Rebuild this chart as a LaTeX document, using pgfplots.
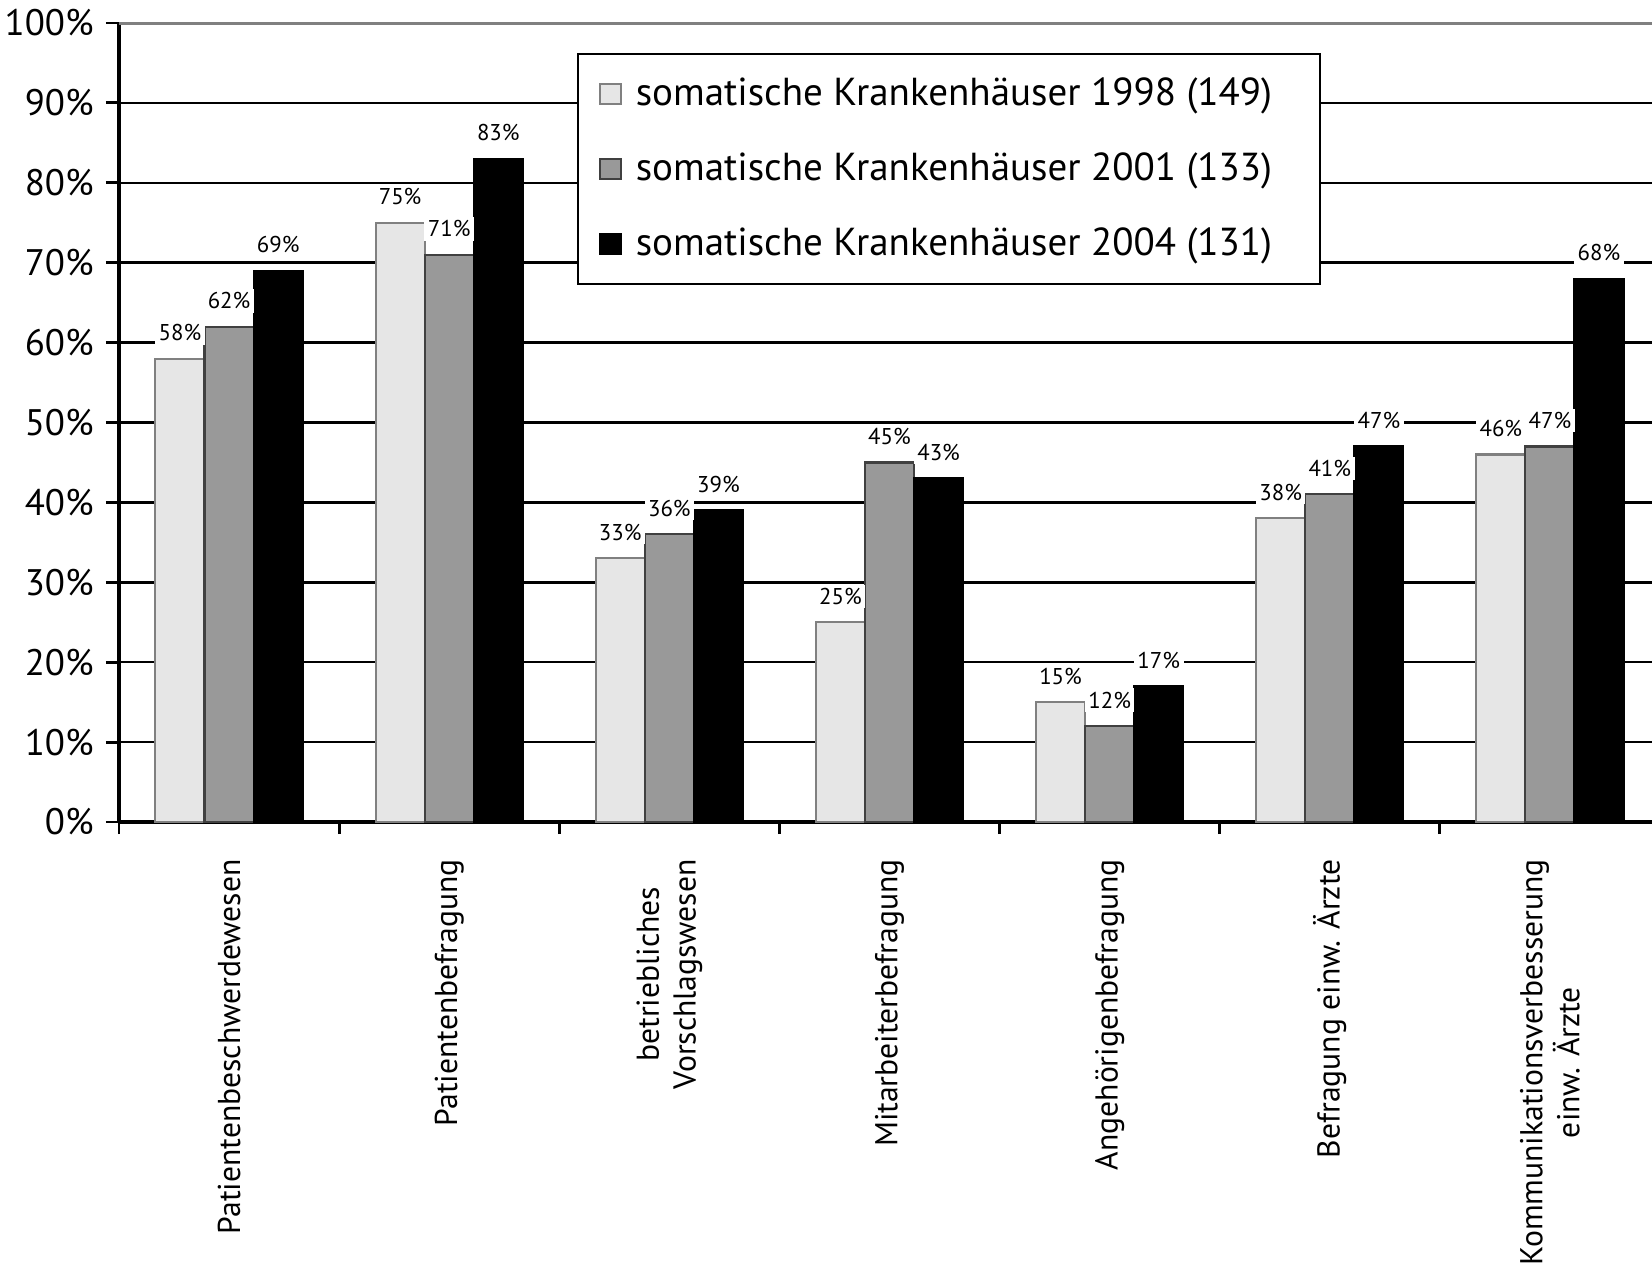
\documentclass[border=0pt]{standalone}
\usepackage{fontspec}
\setmainfont{PT Sans}
\usepackage{pgfplots}
\pgfplotsset{compat=1.18}

\definecolor{lightbar}{RGB}{230,230,230}
\definecolor{midbar}{RGB}{153,153,153}

\begin{document}
\begin{tikzpicture}
\begin{axis}[
    at={(0,0)}, anchor=south west,
    scale only axis,
    width=15.41cm, height=7.99cm,
    ybar=0pt,
    bar width=0.223,
    xmin=-0.5, xmax=6.5,
    ymin=0, ymax=100,
    axis x line=bottom, axis y line=left,
    axis line style={-, line width=1.1pt},
    xtick={0,...,6},
    xticklabels={Patientenbeschwerdewesen, Patientenbefragung,
        {betriebliches\\Vorschlagswesen}, Mitarbeiterbefragung,
        Angehörigenbefragung, Befragung einw. Ärzte,
        {Kommunikationsverbesserung\\einw. Ärzte}},
    xticklabel style={rotate=90, anchor=east, align=center, font=\fontsize{9}{10.5}\selectfont},
    xticklabel shift=0.12cm,
    minor xtick={-0.5,0.5,...,6.5},
    xtick style={draw=none},
    minor tick length=0.12cm,
    minor x tick style={draw=black, line width=0.8pt},
    ytick={0,10,...,100},
    yticklabel={\pgfmathprintnumber{\tick}\%},
    yticklabel style={font=\fontsize{10.5}{12}\selectfont},
    /pgf/number format/assume math mode=true,
    tick align=outside,
    major tick length=0.13cm,
    ytick style={line width=0.8pt, black},
    ymajorgrids,
    grid style={black, line width=0.7pt},
    nodes near coords={\pgfmathprintnumber{\pgfplotspointmeta}\%},
    nodes near coords style={font=\fontsize{6.5}{7}\selectfont, fill=white, inner sep=1pt, yshift=3.7pt},
    legend style={at={(0.297,0.962)}, anchor=north west, draw=black, line width=0.6pt,
        font=\fontsize{11.1}{12.6}\selectfont, row sep=0.28cm, inner xsep=6pt, inner ysep=4.6pt},
    legend cell align=left,
    legend image code/.code={
        \draw[#1, line width=0.5pt] (0cm,-0.1cm) rectangle (0.21cm,0.1cm);
        \path (0.28cm,0cm);},
]
\addplot[fill=lightbar, draw=gray, line width=0.6pt] coordinates {
    (0,58) (1,75) (2,33) (3,25) (4,15) (5,38) (6,46)};
\addlegendentry{somatische Krankenhäuser 1998 (149)\rule{0.2cm}{0pt}}
\addplot[fill=midbar, draw=black!75, line width=0.6pt] coordinates {
    (0,62) (1,71) (2,36) (3,45) (4,12) (5,41) (6,47)};
\addlegendentry{somatische Krankenhäuser 2001 (133)\rule{0.2cm}{0pt}}
\addplot[fill=black, draw=black, line width=0.6pt] coordinates {
    (0,69) (1,83) (2,39) (3,43) (4,17) (5,47) (6,68)};
\addlegendentry{somatische Krankenhäuser 2004 (131)\rule{0.2cm}{0pt}}
\draw[gray, line width=1.2pt] (rel axis cs:0,1) -- (rel axis cs:1,1);
\end{axis}
\pgfresetboundingbox
\useasboundingbox (-1.19cm,-4.54cm) rectangle (15.33cm,8.22cm);
\end{tikzpicture}
\end{document}
